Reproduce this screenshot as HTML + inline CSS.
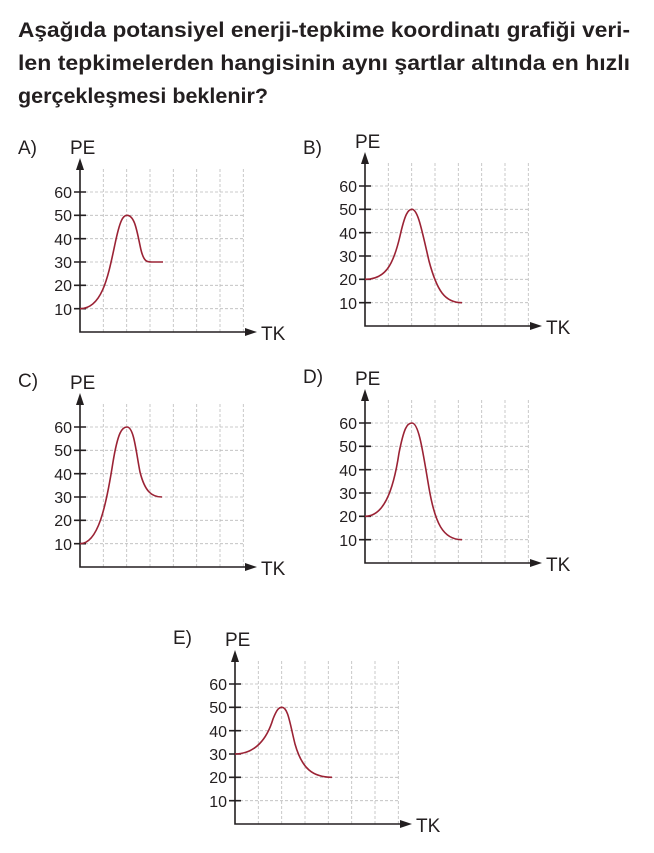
<!DOCTYPE html>
<html><head><meta charset="utf-8"><style>
body{margin:0;background:#fff;}
svg{display:block;font-family:"Liberation Sans",sans-serif;}
.t{font-size:21px;font-weight:bold;fill:#231f20;}
.g{stroke:#bbb;stroke-width:0.8;stroke-dasharray:3,2;fill:none;}
.ax{stroke:#231f20;stroke-width:1.6;fill:none;}
.c{stroke:#9b2335;stroke-width:1.6;fill:none;}
.n{font-size:16px;fill:#231f20;text-anchor:end;}
.l{font-size:19px;fill:#231f20;}
</style></head><body>
<svg width="654" height="853" viewBox="0 0 654 853">
<text class="t" x="18" y="37" textLength="612" lengthAdjust="spacingAndGlyphs">Aşağıda potansiyel enerji-tepkime koordinatı grafiği veri-</text>
<text class="t" x="18" y="70" textLength="612" lengthAdjust="spacingAndGlyphs">len tepkimelerden hangisinin aynı şartlar altında en hızlı</text>
<text class="t" x="18" y="103" textLength="250" lengthAdjust="spacingAndGlyphs">gerçekleşmesi beklenir?</text>

<defs>
<g id="frame">
<path class="g" d="M23.3,-163V0M46.7,-163V0M70,-163V0M93.3,-163V0M116.7,-163V0M140,-163V0M163.3,-163V0M0,-23.3H165M0,-46.7H165M0,-70H165M0,-93.3H165M0,-116.7H165M0,-140H165"/>
<path class="ax" d="M0,-165V0H168M-6,-23.3H6M-6,-46.7H6M-6,-70H6M-6,-93.3H6M-6,-116.7H6M-6,-140H6"/>
<path d="M0,-174L-4,-162H4Z M177,0L165,-4V4Z" fill="#231f20"/>
</g>
</defs>

<!-- A -->
<g transform="translate(80,332)">
<use href="#frame"/>
<text class="l" x="-62" y="-178">A)</text><text class="l" x="-10" y="-178">PE</text><text class="l" x="181" y="8">TK</text>
<text class="n" x="-8" y="-134">60</text><text class="n" x="-8" y="-111">50</text><text class="n" x="-8" y="-87">40</text><text class="n" x="-8" y="-64">30</text><text class="n" x="-8" y="-41">20</text><text class="n" x="-8" y="-17">10</text>
<path class="c" d="M0,-23.3C22,-23.3 28,-55 35,-88C40,-112 43,-116.7 47,-116.7C55,-116.7 57,-100 61,-82C64,-70 67,-70 72,-70L83,-70"/>
</g>
<!-- B -->
<g transform="translate(365,326)">
<use href="#frame"/>
<text class="l" x="-62" y="-172">B)</text><text class="l" x="-10" y="-178">PE</text><text class="l" x="181" y="8">TK</text>
<text class="n" x="-8" y="-134">60</text><text class="n" x="-8" y="-111">50</text><text class="n" x="-8" y="-87">40</text><text class="n" x="-8" y="-64">30</text><text class="n" x="-8" y="-41">20</text><text class="n" x="-8" y="-17">10</text>
<path class="c" d="M0,-46.7C20,-46.7 28,-60 35,-90C40,-112 43,-116.7 47,-116.7C53,-116.7 57,-95 64,-65C72,-35 80,-23.3 97,-23.3"/>
</g>
<!-- C -->
<g transform="translate(80,567)">
<use href="#frame"/>
<text class="l" x="-62" y="-180">C)</text><text class="l" x="-10" y="-178">PE</text><text class="l" x="181" y="8">TK</text>
<text class="n" x="-8" y="-134">60</text><text class="n" x="-8" y="-111">50</text><text class="n" x="-8" y="-87">40</text><text class="n" x="-8" y="-64">30</text><text class="n" x="-8" y="-41">20</text><text class="n" x="-8" y="-17">10</text>
<path class="c" d="M0,-23.3C18,-23.3 26,-60 33,-105C38,-135 42,-140 47,-140C54,-140 56,-115 60,-95C65,-75 72,-70 82,-70"/>
</g>
<!-- D -->
<g transform="translate(365,563)">
<use href="#frame"/>
<text class="l" x="-62" y="-180">D)</text><text class="l" x="-10" y="-178">PE</text><text class="l" x="181" y="8">TK</text>
<text class="n" x="-8" y="-134">60</text><text class="n" x="-8" y="-111">50</text><text class="n" x="-8" y="-87">40</text><text class="n" x="-8" y="-64">30</text><text class="n" x="-8" y="-41">20</text><text class="n" x="-8" y="-17">10</text>
<path class="c" d="M0,-46.7C18,-46.7 28,-70 34,-110C39,-135 42,-140 47,-140C54,-140 58,-110 64,-75C70,-40 78,-23.3 97,-23.3"/>
</g>
<!-- E -->
<g transform="translate(235,824)">
<use href="#frame"/>
<text class="l" x="-62" y="-180">E)</text><text class="l" x="-10" y="-178">PE</text><text class="l" x="181" y="8">TK</text>
<text class="n" x="-8" y="-134">60</text><text class="n" x="-8" y="-111">50</text><text class="n" x="-8" y="-87">40</text><text class="n" x="-8" y="-64">30</text><text class="n" x="-8" y="-41">20</text><text class="n" x="-8" y="-17">10</text>
<path class="c" d="M0,-70C20,-70 32,-85 38,-105C42,-115 44,-116.7 47,-116.7C53,-116.7 55,-100 60,-80C67,-55 78,-46.7 97,-46.7"/>
</g>
</svg>
</body></html>
